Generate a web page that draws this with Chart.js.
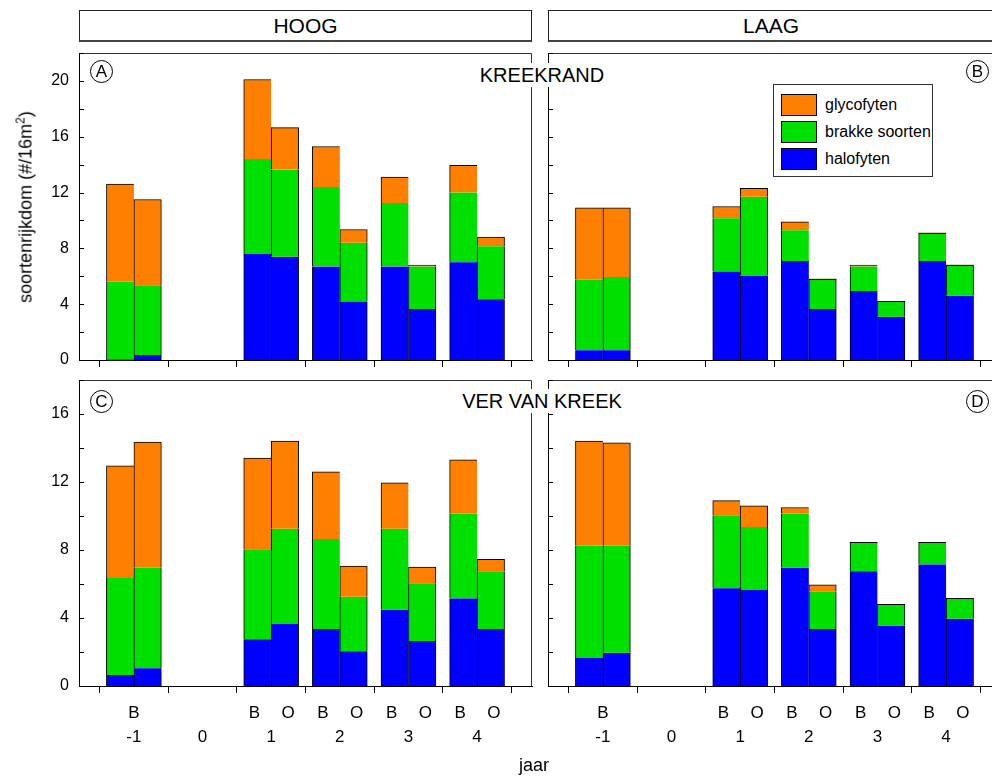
<!DOCTYPE html>
<html>
<head>
<meta charset="utf-8">
<script src="https://cdn.jsdelivr.net/npm/chart.js@4.4.1/dist/chart.umd.min.js"></script>
<style>
  html, body { margin: 0; padding: 0; background: #fff; width: 992px; height: 778px; overflow: hidden;
               font-family: "Liberation Sans", Arial, sans-serif; color: #000; }
  canvas { position: absolute; }
  .hdr { position: absolute; top: 10px; height: 32px; box-sizing: border-box; border: 1px solid #222;
         border-bottom: 2px solid #444; text-align: center; font-size: 21px; line-height: 29px; background: #fff; }
  .site { position: absolute; background: #fff; font-size: 20px; line-height: 24px; padding: 0 3px;
          transform: translateX(-50%); white-space: nowrap; z-index: 5; }
  .circ { position: absolute; width: 23px; height: 23px; box-sizing: border-box; border: 1px solid #000;
          border-radius: 50%; text-align: center; font-size: 17px; line-height: 21px; z-index: 5; }
  .legend { position: absolute; left: 773px; top: 84px; width: 160px; height: 93px; box-sizing: border-box;
            border: 1px solid #333; background: #fff; z-index: 5; }
  .legend .sw { position: absolute; left: 7px; width: 36px; height: 22px; box-sizing: border-box; border: 1px solid #000; }
  .legend .lb { position: absolute; left: 51px; font-size: 16px; line-height: 22px; white-space: nowrap; }
  .ytitle { position: absolute; left: 25px; top: 207px; transform: translate(-50%, -50%) rotate(-90deg);
            font-size: 18px; white-space: nowrap; }
  .ytitle sup { font-size: 12px; }
  .xtitle { position: absolute; left: 534px; top: 765px; transform: translate(-50%, -50%); font-size: 18px; }
</style>
</head>
<body>
<div class="hdr" style="left:79px;width:453px;">HOOG</div>
<div class="hdr" style="left:548px;width:446px;">LAAG</div>

<canvas id="chartA" width="545" height="380" style="left:0;top:0;"></canvas>
<canvas id="chartB" width="471" height="380" style="left:530px;top:0;"></canvas>
<canvas id="chartC" width="545" height="438" style="left:0;top:340px;"></canvas>
<canvas id="chartD" width="471" height="438" style="left:530px;top:340px;"></canvas>

<div class="site" style="left:542px;top:63px;">KREEKRAND</div>
<div class="site" style="left:542px;top:389px;">VER VAN KREEK</div>

<div class="circ" style="left:90px;top:60px;">A</div>
<div class="circ" style="left:966px;top:60px;">B</div>
<div class="circ" style="left:90px;top:390px;">C</div>
<div class="circ" style="left:966px;top:390px;">D</div>

<div class="legend" id="legend"></div>

<div class="ytitle">soortenrijkdom (#/16m<sup>2</sup>)</div>
<div class="xtitle">jaar</div>

<script>
// bars: year and side (B = before, O = after) of each bar
var BAR_YEAR = [-1, -1, 1, 1, 2, 2, 3, 3, 4, 4];
var BAR_SIDE = [-1, 1, -1, 1, -1, 1, -1, 1, -1, 1];

var TICK_YEARS  = [-1, 0, 1, 2, 3, 4];
var TICK_LABELS = ['-1', '0', '1', '2', '3', '4'];
var SUB_LABELS  = [['B'], [], ['B', 'O'], ['B', 'O'], ['B', 'O'], ['B', 'O']];

// stacking order bottom -> top
var SERIES = ['halofyten', 'brakke soorten', 'glycofyten'];
var COLORS = ['#0000FF', '#00E000', '#FF8000'];

// A: hoog, kreekrand
var aHalo   = [0, 0.35, 7.6, 7.4, 6.7, 4.2, 6.7, 3.65, 7.0, 4.35];
var aBrakke = [5.6, 5.0, 6.8, 6.25, 5.7, 4.2, 4.55, 3.05, 5.0, 3.8];
var aGlyco  = [7.0, 6.15, 5.7, 3.0, 2.9, 0.95, 1.85, 0.1, 1.95, 0.65];

// B: laag, kreekrand
var bHalo   = [0.7, 0.7, 6.35, 6.05, 7.1, 3.65, 4.95, 3.1, 7.1, 4.6];
var bBrakke = [5.05, 5.25, 3.8, 5.65, 2.2, 2.15, 1.75, 1.1, 2.0, 2.2];
var bGlyco  = [5.15, 4.95, 0.85, 0.6, 0.6, 0, 0.1, 0, 0, 0];

// C: hoog, ver van kreek
var cHalo   = [0.65, 1.05, 2.75, 3.65, 3.35, 2.05, 4.5, 2.65, 5.15, 3.35];
var cBrakke = [5.7, 5.9, 5.3, 5.6, 5.3, 3.2, 4.75, 3.4, 5.0, 3.4];
var cGlyco  = [6.6, 7.4, 5.35, 5.15, 3.95, 1.8, 2.7, 0.95, 3.15, 0.7];

// D: laag, ver van kreek
var dHalo   = [1.65, 1.95, 5.75, 5.65, 6.95, 3.35, 6.75, 3.55, 7.15, 3.95];
var dBrakke = [6.6, 6.3, 4.3, 3.7, 3.2, 2.2, 1.7, 1.25, 1.3, 1.2];
var dGlyco  = [6.15, 6.05, 0.85, 1.25, 0.35, 0.4, 0, 0, 0, 0];

var FONT = '"Liberation Sans", Arial, sans-serif';

// legend, top series first
var legend = document.getElementById('legend');
for (var k = SERIES.length - 1; k >= 0; k--) {
  var row = SERIES.length - 1 - k;
  legend.innerHTML +=
    '<div class="sw" style="top:' + (9 + row * 27) + 'px;background:' + COLORS[k] + ';"></div>' +
    '<div class="lb" style="top:' + (9 + row * 27) + 'px;">' + SERIES[k] + '</div>';
}

// frame on top/right, inward y ticks, B/O labels under the x axis
var framePlugin = {
  id: 'frame',
  afterDraw: function(chart, args, opts) {
    var ctx = chart.ctx, a = chart.chartArea, ys = chart.scales.y, xs = chart.scales.x;
    ctx.save();
    ctx.strokeStyle = '#333';
    ctx.lineWidth = 1;
    ctx.beginPath();
    ctx.moveTo(a.left, a.top + 0.5);
    ctx.lineTo(a.right - 0.5, a.top + 0.5);
    ctx.lineTo(a.right - 0.5, a.bottom);
    ctx.stroke();

    ctx.strokeStyle = '#000';
    ctx.beginPath();
    ys.ticks.forEach(function(t) {
      var py = Math.round(ys.getPixelForValue(t.value)) + 0.5;
      ctx.moveTo(a.left, py);
      ctx.lineTo(a.left + 5, py);
    });
    ctx.stroke();

    if (opts.subLabels) {
      ctx.fillStyle = '#000';
      ctx.font = '17px ' + FONT;
      ctx.textAlign = 'center';
      ctx.textBaseline = 'middle';
      TICK_YEARS.forEach(function(yr, i) {
        var labs = SUB_LABELS[i];
        if (labs.length === 1) {
          ctx.fillText(labs[0], xs.getPixelForValue(yr), a.bottom + 27);
        } else if (labs.length === 2) {
          ctx.fillText(labs[0], xs.getPixelForValue(yr - 0.245), a.bottom + 27);
          ctx.fillText(labs[1], xs.getPixelForValue(yr + 0.245), a.bottom + 27);
        }
      });
    }
    ctx.restore();
  }
};

function makePanel(id, values, p) {
  var datasets = SERIES.map(function(name, s) {
    return {
      label: name,
      data: values[s].map(function(v, i) { return { x: BAR_YEAR[i] + BAR_SIDE[i] * 0.2, y: v }; }),
      backgroundColor: COLORS[s],
      borderColor: '#000',
      borderWidth: function(c) {
        var i = c.dataIndex, v = values[s][i];
        if (!v) return 0;
        var top = true;
        for (var u = s + 1; u < values.length; u++) { if (values[u][i] > 0) top = false; }
        return { left: 1, right: BAR_SIDE[i] > 0 ? 1 : 0, top: top ? 1 : 0, bottom: 0 };
      },
      borderSkipped: false,
      barPercentage: 1,
      categoryPercentage: 1
    };
  });

  return new Chart(document.getElementById(id), {
    type: 'bar',
    data: { datasets: datasets },
    options: {
      responsive: false,
      animation: false,
      devicePixelRatio: 1,
      layout: { padding: { top: p.top, right: p.right, left: 0, bottom: 0 } },
      plugins: { legend: { display: false }, tooltip: { enabled: false }, frame: { subLabels: p.showX } },
      scales: {
        x: {
          type: 'linear', stacked: true, offset: false, min: -1.8, max: 4.8,
          afterBuildTicks: function(s) { s.ticks = TICK_YEARS.map(function(v) { return { value: v }; }); },
          afterFit: function(s) { s.height = p.xHeight; },
          grid: { display: true, drawOnChartArea: false, drawTicks: true, tickLength: 7, tickColor: '#000', color: '#000' },
          border: { display: true, color: '#000', width: 1 },
          ticks: {
            display: p.showX, padding: 34, color: '#000', maxRotation: 0, autoSkip: false,
            font: { size: 17, family: FONT },
            callback: function(v) { return TICK_LABELS[TICK_YEARS.indexOf(v)]; }
          }
        },
        y: {
          stacked: true, min: 0, max: p.yMax,
          afterFit: function(s) { s.width = p.yWidth; },
          grid: { display: false, drawTicks: false },
          border: { display: true, color: '#000', width: 1 },
          ticks: {
            display: p.showY, stepSize: 2, padding: 10, color: '#000', autoSkip: false,
            font: { size: 16, family: FONT },
            callback: function(v) { return (v % 4 === 0 && v < p.yMax - 1) ? v : ''; }
          }
        }
      }
    },
    plugins: [framePlugin]
  });
}

makePanel('chartA', [aHalo, aBrakke, aGlyco], { top: 53, right: 13, xHeight: 20, yWidth: 79, yMax: 22, showX: false, showY: true });
makePanel('chartB', [bHalo, bBrakke, bGlyco], { top: 53, right: 0, xHeight: 20, yWidth: 18, yMax: 22, showX: false, showY: false });
makePanel('chartC', [cHalo, cBrakke, cGlyco], { top: 40, right: 13, xHeight: 92, yWidth: 79, yMax: 18, showX: true, showY: true });
makePanel('chartD', [dHalo, dBrakke, dGlyco], { top: 40, right: 0, xHeight: 92, yWidth: 18, yMax: 18, showX: true, showY: false });
</script>
</body>
</html>
